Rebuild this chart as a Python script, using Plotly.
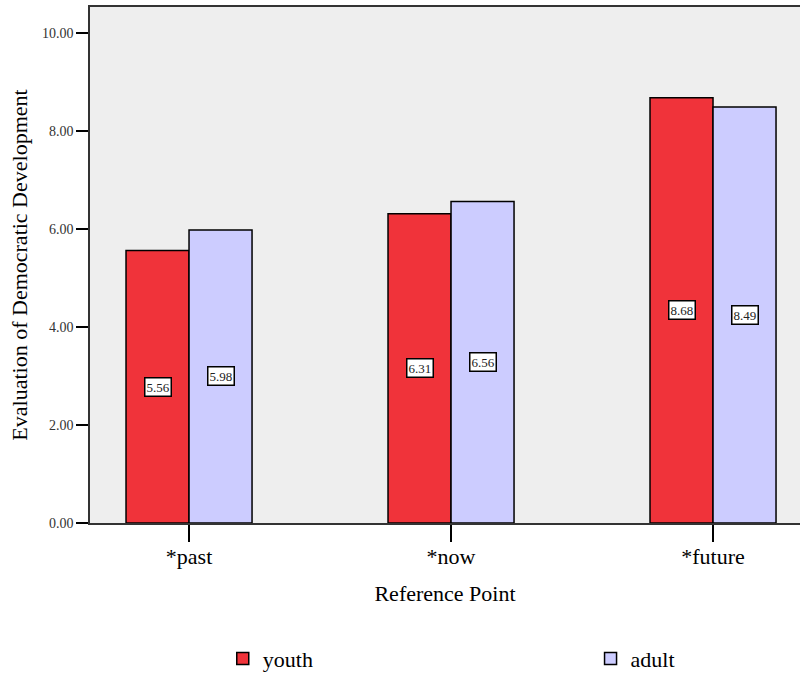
import plotly.graph_objects as go

categories = ["*past", "*now", "*future"]
youth = [5.56, 6.31, 8.68]
adult = [5.98, 6.56, 8.49]
series_names = ["youth", "adult"]
tick_vals = [0, 2, 4, 6, 8, 10]
tick_text = ["0.00", "2.00", "4.00", "6.00", "8.00", "10.00"]

FONT = "Liberation Serif"
RED = "#F0333A"
LAV = "#CCCCFF"

fig = go.Figure()
fig.add_trace(go.Bar(x=categories, y=youth, name=series_names[0], legend="legend",
                     marker=dict(color=RED, line=dict(color="black", width=1.5))))
fig.add_trace(go.Bar(x=categories, y=adult, name=series_names[1], legend="legend2",
                     marker=dict(color=LAV, line=dict(color="black", width=1.5))))

for vals, shift in ((youth, -31.5), (adult, 31.5)):
    for c, v in zip(categories, vals):
        fig.add_annotation(x=c, y=v / 2, text=f"{v:.2f}", showarrow=False,
                           xshift=shift, font=dict(family=FONT, size=13, color="#222"),
                           bgcolor="white", bordercolor="black", borderwidth=1.5,
                           borderpad=1)

leg_font = dict(family=FONT, size=22, color="black")
fig.update_layout(
    width=800, height=673,
    margin=dict(l=90, r=0, t=7, b=150, autoexpand=False),
    plot_bgcolor="#EEEEEE", paper_bgcolor="white",
    barmode="group", bargap=0.519, bargroupgap=0,
    font=dict(family=FONT, color="black"),
    showlegend=True,
    legend=dict(orientation="h", x=0.187, xanchor="left", y=-0.263, yanchor="middle",
                font=leg_font),
    legend2=dict(orientation="h", x=0.705, xanchor="left", y=-0.263, yanchor="middle",
                 font=leg_font),
)
fig.update_xaxes(range=[-0.378, 2.332], showline=True, linecolor="#333", linewidth=1.5,
                 mirror=True, ticks="outside", ticklen=17, tickwidth=1.5, tickcolor="black",
                 tickfont=dict(family=FONT, size=22, color="black"), automargin=False,
                 ticklabelstandoff=-4,
                 title=dict(text="Reference Point", font=dict(family=FONT, size=22, color="black"),
                            standoff=17),
                 showgrid=False, zeroline=False)
fig.update_yaxes(range=[0, 10.53], tickvals=tick_vals, ticktext=tick_text,
                 showline=True, linecolor="#333", linewidth=1.5, mirror=False,
                 ticks="outside", ticklen=12, tickwidth=2, tickcolor="black",
                 tickfont=dict(family=FONT, size=14, color="#333"), automargin=False,
                 title=dict(text="Evaluation of Democratic Development",
                            font=dict(family=FONT, size=22, color="black"), standoff=8),
                 showgrid=False, zeroline=False)

fig.write_html("out.html", config={"displayModeBar": False},
               post_script="document.body.style.margin='0px';")
